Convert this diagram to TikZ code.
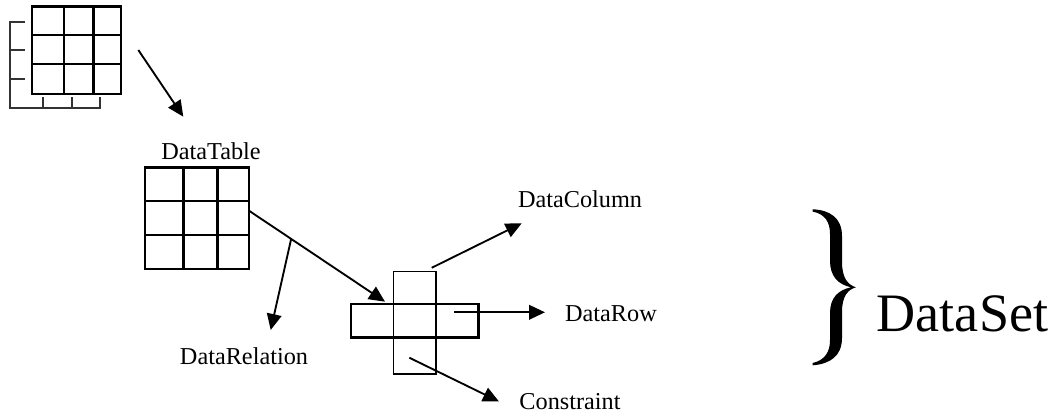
\documentclass[tikz,border=0pt]{standalone}
\usepackage{fontspec}
\setmainfont{Liberation Serif}
\usetikzlibrary{arrows.meta,calc}
\begin{document}
\begin{tikzpicture}[x=0.75pt,y=-0.75pt,
  gridline/.style={line width=1.8pt},
  thinline/.style={line width=1.2pt},
  bracket/.style={line width=1.4pt, draw=black!80},
  conn/.style={line width=1.4pt, -{Triangle[length=12pt,width=11pt]}},
  lbl/.style={font=\fontsize{18.2}{20}\selectfont, anchor=base, inner sep=0pt},
  biglbl/.style={font=\fontsize{40.6}{44}\selectfont, anchor=base, inner sep=0pt}]
\useasboundingbox (0,0) rectangle (1053,416);

% small table icon with row and column markers
\draw[bracket] (25,21.7) -- (10,21.7) -- (10,108.3) -- (100,108.3) -- (100,96.7);
\draw[bracket] (10,50) -- (25,50) (10,79.3) -- (25,79.3)
  (42.7,108.3) -- (42.7,96.7) (71.7,108.3) -- (71.7,96.7);
\draw[gridline] (31.7,6.7) rectangle (120.7,94);
\draw[gridline] (64,6.7) -- (64,94) (93.3,6.7) -- (93.3,94)
  (31.7,35) -- (120.7,35) (31.7,64) -- (120.7,64);

% DataTable grid
\draw[gridline] (145,167.7) rectangle (249,269.3);
\draw[gridline] (183.3,167.7) -- (183.3,269.3) (217.3,167.7) -- (217.3,269.3)
  (145,201) -- (249,201) (145,235) -- (249,235);

% column / row cross
\draw[thinline] (393.3,271.7) rectangle (436,374);
\draw[gridline] (351,304.3) rectangle (478.3,337.7);

% connector end points
\coordinate (iconOut) at (138.3,50);
\coordinate (tableIn) at (183.3,116.7);
\coordinate (tableOut) at (249,210.7);
\coordinate (crossIn) at (385,301.7);
\coordinate (branch) at ($(tableOut)!0.31!(crossIn)$);
\coordinate (relEnd) at (270.7,330);
\coordinate (colOut) at (431.7,267.8);
\coordinate (colEnd) at (521.7,223.3);
\coordinate (rowOut) at (454.3,312.3);
\coordinate (rowEnd) at (545,312.3);
\coordinate (conOut) at (409.3,357.7);
\coordinate (conEnd) at (499,401.5);

\draw[conn] (iconOut) -- (tableIn);
\draw[conn] (tableOut) -- (crossIn);
\draw[conn] (branch) -- (relEnd);
\draw[conn] (colOut) -- (colEnd);
\draw[conn] (rowOut) -- (rowEnd);
\draw[conn] (conOut) -- (conEnd);

% labels
\node[lbl] (tableLbl) at (211,160) {DataTable};
\node[lbl] (colLbl) at (580,208) {DataColumn};
\node[lbl] (rowLbl) at (611,322) {DataRow};
\node[lbl] (conLbl) at (570,410) {Constraint};
\node[lbl] (relLbl) at (244,365) {DataRelation};

% closing brace and DataSet
\fill (812.7,209.3) .. controls (830,210) and (842,218) .. (842,236)
  -- (842,262) .. controls (842,278) and (848,285) .. (856,287.3)
  .. controls (848,289.5) and (842,296) .. (842,312)
  -- (842,338) .. controls (842,356) and (830,364) .. (812.7,365.3)
  -- (812.7,363) .. controls (825,360) and (830,352) .. (830,340)
  -- (830,313) .. controls (830,298) and (838,290) .. (851,287.3)
  .. controls (838,284.5) and (830,276) .. (830,261)
  -- (830,234) .. controls (830,222) and (825,214) .. (812.7,211.6) -- cycle;
\node[biglbl] (setLbl) at (962.5,332) {DataSet};
\end{tikzpicture}
\end{document}
